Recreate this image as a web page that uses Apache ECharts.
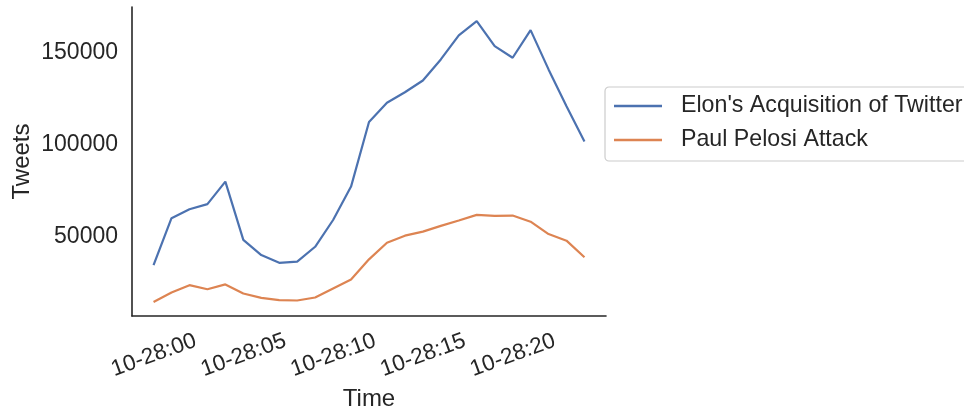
<!DOCTYPE html>
<html>
<head>
<meta charset="utf-8">
<script src="https://cdn.jsdelivr.net/npm/echarts@6/dist/echarts.min.js"></script>
<style>
html,body{margin:0;padding:0;background:#fff;}
#c{width:964px;height:411px;}
</style>
</head>
<body>
<div id="c"></div>
<script>
// hour offsets relative to 10-28 00:00 for each data point
const hours = [-2.5,-1.5,-0.5,0.5,1.5,2.5,3.5,4.5,5.5,6.5,7.5,8.5,9.5,10.5,11.5,12.5,13.5,14.5,15.5,16.5,17.5,18.5,19.5,20.5,21.5];
const elon = [34800,60200,65000,67800,80000,48400,40200,36000,36600,44700,59200,77300,112300,122700,128400,134800,146200,159200,167000,153400,147100,162100,140800,120800,101800];
const pelosi = [14800,19900,23900,21700,24300,19400,17000,15800,15600,17200,22100,27000,37900,46900,50700,52900,56000,58900,62000,61400,61600,58300,51600,48000,39000];
const xTicks = [0,5,10,15,20];
const xTickLabels = ['10-28:00','10-28:05','10-28:10','10-28:15','10-28:20'];
const yTicks = [50000,100000,150000];
const seriesNames = ["Elon's Acquisition of Twitter","Paul Pelosi Attack"];

const all = elon.concat(pelosi);
const dmin = Math.min(...all), dmax = Math.max(...all);
const ymin = dmin - 0.05*(dmax-dmin), ymax = dmax + 0.05*(dmax-dmin);
const xspan = hours[hours.length-1]-hours[0];
const xmin = hours[0]-0.05*xspan, xmax = hours[hours.length-1]+0.05*xspan;

const font = '"Liberation Sans", Arial, sans-serif';
const txt = '#262626';
const chart = echarts.init(document.getElementById('c'), null, {renderer:'canvas'});
chart.setOption({
  animation:false,
  backgroundColor:'#fff',
  grid:{left:132, right:358, top:7, bottom:95, containLabel:false, outerBoundsMode:'none'},
  legend:{
    orient:'vertical', left:605, top:87,
    padding:[7,10,9,9],
    itemGap:10, itemWidth:48, itemHeight:2.4,
    icon:'rect',
    borderColor:'#cccccc', borderWidth:1.2, borderRadius:4,
    backgroundColor:'#fff',
    textStyle:{fontFamily:font, fontSize:23.2, color:txt, lineHeight:24, padding:[0,0,0,14]},
    data:seriesNames
  },
  xAxis:{
    type:'value', min:xmin, max:xmax,
    name:'Time', nameLocation:'middle', nameGap:66,
    nameTextStyle:{fontFamily:font, fontSize:24, color:txt, lineHeight:24},
    axisLine:{show:true, onZero:false, lineStyle:{color:'#262626', width:1.6}},
    axisTick:{show:false},
    splitLine:{show:false},
    axisLabel:{
      customValues:xTicks, rotate:20, align:'right', verticalAlign:'middle',
      margin:23, fontFamily:font, fontSize:22.5, color:txt, padding:[0,3,0,0],
      formatter:function(v){ const i = xTicks.indexOf(v); return i>=0 ? xTickLabels[i] : ''; }
    }
  },
  yAxis:{
    type:'value', min:ymin, max:ymax,
    name:'Tweets', nameLocation:'middle', nameGap:98,
    nameTextStyle:{fontFamily:font, fontSize:24, color:txt, lineHeight:24},
    axisLine:{show:true, onZero:false, lineStyle:{color:'#262626', width:1.6}},
    axisTick:{show:false},
    splitLine:{show:false},
    axisLabel:{customValues:yTicks, margin:14, fontFamily:font, fontSize:23, color:txt,
      formatter:function(v){ return String(v); }}
  },
  series:[
    {name:seriesNames[0], type:'line', data:hours.map((h,i)=>[h,elon[i]]), showSymbol:false, symbol:'none',
     lineStyle:{color:'#4c72b0', width:2.2}, itemStyle:{color:'#4c72b0'}},
    {name:seriesNames[1], type:'line', data:hours.map((h,i)=>[h,pelosi[i]]), showSymbol:false, symbol:'none',
     lineStyle:{color:'#dd8452', width:2.2}, itemStyle:{color:'#dd8452'}}
  ]
});
</script>
</body>
</html>
